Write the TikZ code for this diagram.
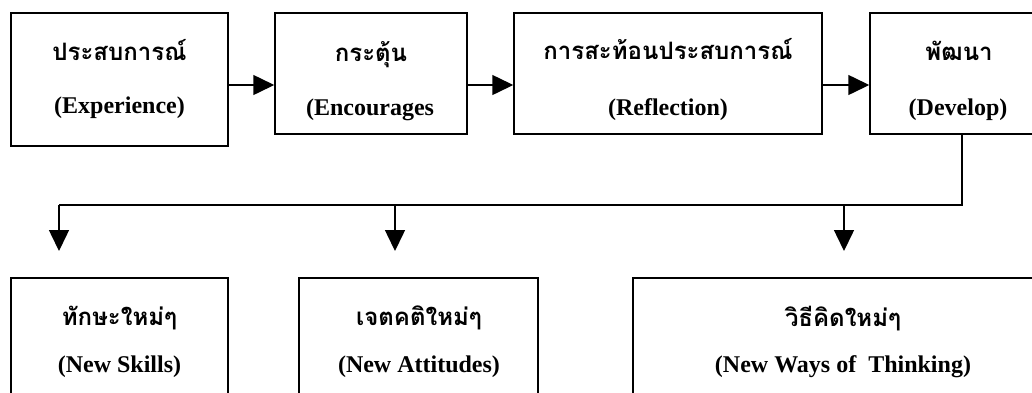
\documentclass[tikz,border=0pt]{standalone}
\usepackage{fontspec}
\setmainfont{Liberation Serif}
\newfontfamily\thaifont[Script=Thai]{Loma}
\usetikzlibrary{arrows.meta}
\tikzset{
  box/.style={draw=black, line width=1.5pt, rectangle, inner sep=0pt},
  th/.style={anchor=base, inner sep=0pt, font=\thaifont\bfseries\fontsize{24}{28}\selectfont},
  en/.style={anchor=base, inner sep=0pt, font=\bfseries\fontsize{24}{28}\selectfont},
  arr/.style={line width=1.5pt, -{Triangle[length=21pt,width=20pt]}},
  ln/.style={line width=1.5pt}
}
\begin{document}
\begin{tikzpicture}[x=1pt,y=-1pt]
\clip (0,0) rectangle (1032,392);
\fill[white] (0,0) rectangle (1032,392);
% top row boxes
\node[box, minimum width=217pt, minimum height=133pt] (b1) at (119.5,79.5) {};
\node[box, minimum width=192pt, minimum height=121pt] (b2) at (371,73.5) {};
\node[box, minimum width=308pt, minimum height=121pt] (b3) at (668,73.5) {};
\node[box, minimum width=178pt, minimum height=121pt] (b4) at (959,73.5) {};
% bottom row boxes
\node[box, minimum width=217pt, minimum height=142pt] (b5) at (119.5,349) {};
\node[box, minimum width=239pt, minimum height=142pt] (b6) at (418.5,349) {};
\node[box, minimum width=420pt, minimum height=142pt] (b7) at (843,349) {};
% texts
\node[th] (t1) at (119.5,60) {ประสบการณ์};
\node[en] (e1) at (119.5,113) {(Experience)};
\node[th] (t2) at (371,61) {กระตุ้น};
\node[en] (e2) at (370,115) {(Encourages};
\node[th] (t3) at (668,59) {การสะท้อนประสบการณ์};
\node[en] (e3) at (668,115) {(Reflection)};
\node[th] (t4) at (959,60) {พัฒนา};
\node[en] (e4) at (958,115) {(Develop)};
\node[th] (t5) at (119.5,325) {ทักษะใหม่ๆ};
\node[en] (e5) at (119.5,372) {(New Skills)};
\node[th] (t6) at (419,325) {เจตคติใหม่ๆ};
\node[en] (e6) at (419,372) {(New Attitudes)};
\node[th] (t7) at (843,326) {วิธีคิดใหม่ๆ};
\node[en] (e7) at (843,372) {(New Ways of\ \ Thinking)};
% horizontal arrows
\coordinate (ya) at (0,85);
\draw[arr] (b1.east |- ya) -- (b2.west |- ya);
\draw[arr] (b2.east |- ya) -- (b3.west |- ya);
\draw[arr] (b3.east |- ya) -- (b4.west |- ya);
% branch
\coordinate (dv) at (962,134);
\coordinate (corner) at (962,205);
\coordinate (left) at (59,205);
\coordinate (mid) at (395,205);
\coordinate (right) at (844,205);
\coordinate (tipl) at (59,251);
\coordinate (tipm) at (395,251);
\coordinate (tipr) at (844,251);
\draw[ln] (b4.south -| dv) -- (corner) -- (left);
\draw[arr] (left) -- (tipl);
\draw[arr] (mid) -- (tipm);
\draw[arr] (right) -- (tipr);
\end{tikzpicture}
\end{document}
